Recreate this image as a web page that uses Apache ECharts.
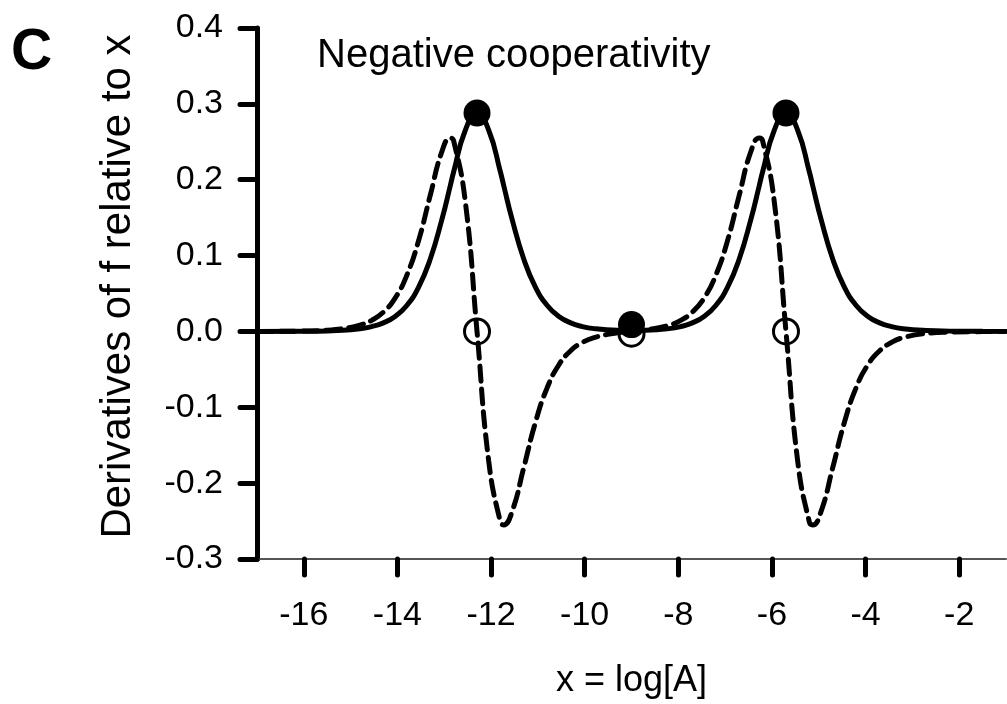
<!DOCTYPE html>
<html>
<head>
<meta charset="utf-8">
<script src="https://cdn.jsdelivr.net/npm/echarts@6/dist/echarts.min.js"></script>
<style>
html,body{margin:0;padding:0;background:#fff;}
#chart{width:1007px;height:704px;}
</style>
</head>
<body>
<div id="chart"></div>
<script>
// x positions (log[A])
const xVals = [-17,-16,-15.5,-15,-14.8,-14.55,-14.3,-14.05,-13.8,-13.55,-13.3,-13.05,-12.87,-12.8,-12.55,-12.3,-12.05,-11.8,-11.73,-11.55,-11.3,-11.05,-10.8,-10.55,-10.3,-10.05,-9.8,-9.3,-9,-8.7,-8.2,-7.95,-7.7,-7.45,-7.2,-6.95,-6.7,-6.45,-6.27,-6.2,-5.95,-5.7,-5.45,-5.2,-5.13,-4.95,-4.7,-4.45,-4.2,-3.95,-3.7,-3.45,-3.2,-2.7,-2.2,-1.5,-1];
// first derivative (solid line)
const firstDeriv = [0,0.0002,0.0007,0.0023,0.0036,0.0064,0.0113,0.0198,0.0342,0.0580,0.0951,0.1476,0.1924,0.2102,0.2652,0.2878,0.2652,0.2102,0.1924,0.1476,0.0951,0.0580,0.0342,0.0198,0.0113,0.0064,0.0037,0.0015,0.0012,0.0015,0.0037,0.0064,0.0113,0.0198,0.0342,0.0580,0.0951,0.1476,0.1924,0.2102,0.2652,0.2878,0.2652,0.2102,0.1924,0.1476,0.0951,0.0580,0.0342,0.0198,0.0113,0.0064,0.0036,0.0012,0.0004,0.0001,0];
// second derivative (dashed line)
const secondDeriv = [0,0.0005,0.0017,0.0053,0.0083,0.0146,0.0255,0.0439,0.0740,0.1194,0.1792,0.2372,0.2551,0.2515,0.1710,0,-0.1710,-0.2515,-0.2551,-0.2372,-0.1792,-0.1194,-0.0740,-0.0439,-0.0255,-0.0146,-0.0081,-0.0019,0,0.0019,0.0081,0.0146,0.0255,0.0439,0.0740,0.1194,0.1792,0.2372,0.2551,0.2515,0.1710,0,-0.1710,-0.2515,-0.2551,-0.2372,-0.1792,-0.1194,-0.0740,-0.0439,-0.0255,-0.0146,-0.0083,-0.0026,-0.0008,-0.0002,0];
// marked points
const filledX = [-12.3, -9, -5.7];
const filledY = [0.288, 0.009, 0.288];
const openX = [-12.3, -9, -5.7];
const openY = [0, -0.003, 0];
// tick labels
const xTickValues = [-16,-14,-12,-10,-8,-6,-4,-2];

const FONT = 'Liberation Sans, Arial, Helvetica, sans-serif';
const zip = (xs, ys) => xs.map((x, i) => [x, ys[i]]);

const chart = echarts.init(document.getElementById('chart'), null, {renderer: 'canvas'});
chart.setOption({
  backgroundColor: '#fff',
  animation: false,
  grid: {left: 257, right: 1, top: 28, bottom: 138, containLabel: false},
  xAxis: {
    type: 'value', min: -17, max: -1,
    name: 'x = log[A]', nameLocation: 'middle', nameGap: 104,
    nameTextStyle: {fontFamily: FONT, fontSize: 36, color: '#000'},
    axisLine: {show: true, onZero: false, lineStyle: {color: '#555', width: 2}},
    axisTick: {show: true, customValues: xTickValues, length: 16, inside: false,
               lineStyle: {color: '#000', width: 5, cap: 'round'}},
    axisLabel: {customValues: xTickValues, margin: 40, fontFamily: FONT, fontSize: 34, color: '#000'},
    splitLine: {show: false}
  },
  yAxis: {
    type: 'value', min: -0.3, max: 0.4, interval: 0.1,
    name: 'Derivatives of f relative to x', nameLocation: 'middle', nameGap: 118, nameRotate: 90,
    nameTextStyle: {fontFamily: FONT, fontSize: 42, color: '#000', padding: [0, 0, 0, 14]},
    axisLine: {show: true, onZero: false, lineStyle: {color: '#000', width: 5}},
    axisTick: {show: true, length: 17, inside: false, lineStyle: {color: '#000', width: 5, cap: 'round'}},
    axisLabel: {margin: 34, fontFamily: FONT, fontSize: 34, color: '#000',
                formatter: v => (Math.round(v * 10) / 10).toFixed(1)},
    splitLine: {show: false}
  },
  graphic: [
    {type: 'text', left: 11, top: 25, style: {text: 'C', font: 'bold 57px ' + FONT, fill: '#000'}},
    {type: 'text', left: 317, top: 36, style: {text: 'Negative cooperativity', font: '40px ' + FONT, fill: '#000'}}
  ],
  series: [
    {type: 'line', data: zip(xVals, secondDeriv), smooth: true, showSymbol: false, z: 2,
     lineStyle: {color: '#000', width: 5, type: [15, 8], cap: 'round'}},
    {type: 'line', data: zip(xVals, firstDeriv), smooth: true, showSymbol: false, z: 3,
     lineStyle: {color: '#000', width: 5}},
    {type: 'scatter', data: zip(filledX, filledY), symbol: 'circle', symbolSize: 27, z: 4,
     itemStyle: {color: '#000', opacity: 1}},
    {type: 'scatter', data: zip(openX, openY), symbol: 'circle', symbolSize: 25, z: 5,
     itemStyle: {color: 'rgba(255,255,255,0)', borderColor: '#000', borderWidth: 3, opacity: 1}}
  ]
});
</script>
</body>
</html>
